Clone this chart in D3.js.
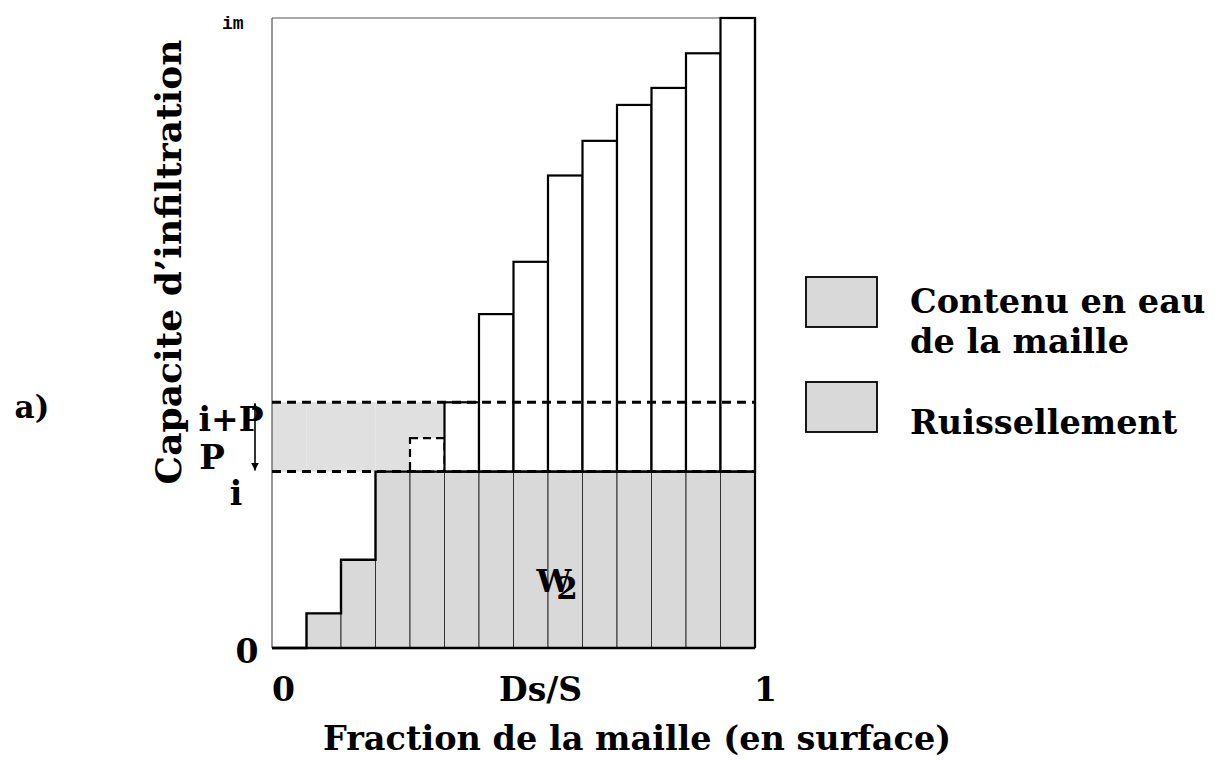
<!DOCTYPE html>
<html>
<head>
<meta charset="utf-8">
<script src="https://cdn.jsdelivr.net/npm/d3@7"></script>
<style>
  html, body { margin: 0; padding: 0; background: #fff; }
  text { font-family: "DejaVu Serif", serif; font-weight: bold; fill: #000; }
</style>
</head>
<body>
<svg id="chart" width="1219" height="761"></svg>
<script>
// ---- data ----
const columns = d3.range(14);                       // 14 equal fractions of the cell
const capacity = [0, 5.5, 14, 28, 33.3, 39, 53, 61.3, 75, 80.5, 86.2, 88.9, 94.4, 100]; // infiltration capacity per fraction (im = 100)
const infiltrationI = 28;     // i
const precipP = 11;           // P  (i+P = 39)
const xTickValues = [0, 0.555, 1];
const xTickLabels = ["0", "Ds/S", "1"];
const legendLabels = [["Contenu en eau", "de la maille"], ["Ruissellement"]];

// ---- layout ----
const svg = d3.select("#chart");
const x = d3.scaleLinear().domain([0, 1]).range([272, 755]);
const y = d3.scaleLinear().domain([0, 100]).range([648, 18]);
const colW = 1 / columns.length;
const iP = infiltrationI + precipP;

const gray = "#d9d9d9";
const lightGray = "#e0e0e0";

// runoff area (between i and i+P, above capacity)
svg.append("g").selectAll("rect")
  .data(columns.filter(k => capacity[k] < iP))
  .join("rect")
  .attr("x", k => x(k * colW))
  .attr("width", k => x((k + 1) * colW) - x(k * colW))
  .attr("y", y(iP))
  .attr("height", k => y(Math.max(capacity[k], infiltrationI)) - y(iP))
  .attr("fill", lightGray);

// frame
svg.append("line").attr("x1", x(0)).attr("x2", x(0)).attr("y1", y(100)).attr("y2", y(0))
  .attr("stroke", "#555").attr("stroke-width", 1.2);
svg.append("line").attr("x1", x(0)).attr("x2", x(1)).attr("y1", y(100)).attr("y2", y(100))
  .attr("stroke", "#555").attr("stroke-width", 1.2);

// water content (gray part of the columns)
svg.append("g").selectAll("rect")
  .data(columns.filter(k => capacity[k] > 0))
  .join("rect")
  .attr("x", k => x(k * colW))
  .attr("width", k => x((k + 1) * colW) - x(k * colW))
  .attr("y", k => y(Math.min(capacity[k], infiltrationI)))
  .attr("height", k => y(0) - y(Math.min(capacity[k], infiltrationI)))
  .attr("fill", gray).attr("stroke", "#333").attr("stroke-width", 1);

// upper (white) part of the columns (dashed where it borders the runoff area)
svg.append("g").selectAll("rect")
  .data(columns.filter(k => capacity[k] > infiltrationI))
  .join("rect")
  .attr("x", k => x(k * colW))
  .attr("width", k => x((k + 1) * colW) - x(k * colW))
  .attr("y", k => y(capacity[k]))
  .attr("height", k => y(infiltrationI) - y(capacity[k]))
  .attr("fill", "#fff").attr("stroke", "#000").attr("stroke-width", 2.2)
  .attr("stroke-dasharray", k => capacity[k] < iP ? "8,5" : null);

// step outline of the water content
const stepPts = columns.map(k => [k * colW, Math.min(capacity[k], infiltrationI)]);
stepPts.push([1, Math.min(capacity[columns.length - 1], infiltrationI)]);
svg.append("path")
  .attr("d", d3.line().x(d => x(d[0])).y(d => y(d[1])).curve(d3.curveStepAfter)(stepPts))
  .attr("fill", "none").attr("stroke", "#000").attr("stroke-width", 2.4);
// right edge
svg.append("line").attr("x1", x(1)).attr("x2", x(1)).attr("y1", y(100)).attr("y2", y(0))
  .attr("stroke", "#000").attr("stroke-width", 2.2);
// x axis base line
svg.append("line").attr("x1", x(0)).attr("x2", x(1)).attr("y1", y(0)).attr("y2", y(0))
  .attr("stroke", "#000").attr("stroke-width", 2.4);

// dashed levels i and i+P
svg.append("g").selectAll("line")
  .data([infiltrationI, iP])
  .join("line")
  .attr("x1", x(0)).attr("x2", x(1))
  .attr("y1", d => y(d)).attr("y2", d => y(d))
  .attr("stroke", "#000").attr("stroke-width", 3).attr("stroke-dasharray", "9,6");

// arrow P
const defs = svg.append("defs");
defs.append("marker")
  .attr("id", "ah").attr("viewBox", "0 0 10 10").attr("refX", 10).attr("refY", 5)
  .attr("markerWidth", 5).attr("markerHeight", 5).attr("orient", "auto")
  .append("path").attr("d", "M0,0 L10,5 L0,10 z").attr("fill", "#000");
defs.append("marker")
  .attr("id", "ahs").attr("viewBox", "0 0 10 10").attr("refX", 10).attr("refY", 5)
  .attr("markerWidth", 4).attr("markerHeight", 4).attr("orient", "auto-start-reverse")
  .append("path").attr("d", "M0,0 L10,5 L0,10 z").attr("fill", "#000");
svg.append("line").attr("x1", 255).attr("x2", 255)
  .attr("y1", y(iP) + 1).attr("y2", y(infiltrationI) - 1)
  .attr("stroke", "#000").attr("stroke-width", 1.6)
  .attr("marker-end", "url(#ah)").attr("marker-start", "url(#ahs)");

// axis tick labels
svg.append("g").attr("transform", `translate(0,${y(0)})`)
  .call(d3.axisBottom(x).tickValues(xTickValues).tickSize(0).tickFormat((d, i) => xTickLabels[i]))
  .call(g => g.select(".domain").remove())
  .selectAll("text")
  .attr("font-family", "DejaVu Serif").attr("font-weight", "bold").attr("font-size", 33)
  .attr("fill", "#000")
  .attr("dy", "1.5em")
  .attr("dx", (d, i) => i === 0 ? 11 : (i === 2 ? 10 : 0));

svg.append("text").attr("x", 247).attr("y", y(0) + 15).attr("text-anchor", "middle")
  .attr("font-size", 33).text("0");
svg.append("text").attr("x", 222).attr("y", 29)
  .style("font-family", "Liberation Mono").attr("font-size", 18).text("im");

// level labels
svg.append("text").attr("x", 231).attr("y", y(iP) + 29).attr("text-anchor", "middle")
  .attr("font-size", 33).text("i+P");
svg.append("text").attr("x", 212).attr("y", y(infiltrationI) - 3).attr("text-anchor", "middle")
  .attr("font-size", 34).text("P");
svg.append("text").attr("x", 236).attr("y", y(infiltrationI) + 33).attr("text-anchor", "middle")
  .attr("font-size", 33).text("i");
svg.append("text").attr("x", 32).attr("y", 418).attr("text-anchor", "middle")
  .attr("font-size", 31).text("a)");

// W2
svg.append("text").attr("x", 554).attr("y", 592).attr("text-anchor", "middle")
  .attr("font-size", 31).text("W");
svg.append("text").attr("x", 567).attr("y", 599).attr("text-anchor", "middle")
  .attr("font-size", 31).text("2");

// axis titles
svg.append("text").attr("x", 323).attr("y", 750)
  .attr("font-size", 33.5).text("Fraction de la maille (en surface)");
svg.append("text").attr("transform", "translate(181,262) rotate(-90)").attr("text-anchor", "middle")
  .attr("font-size", 36).text("Capacite d\u2019infiltration");

// legend
const legendY = [277, 382];
const lg = svg.append("g").selectAll("g").data(legendLabels).join("g")
  .attr("transform", (d, i) => `translate(806,${legendY[i]})`);
lg.append("rect").attr("width", 71).attr("height", 50)
  .attr("fill", gray).attr("stroke", "#000").attr("stroke-width", 1.8);
lg.each(function (lines, i) {
  const g = d3.select(this);
  lines.forEach((t, j) => {
    g.append("text").attr("x", 104).attr("y", (i === 0 ? 36 : 52) + j * 40)
      .attr("font-size", 33.5).text(t);
  });
});
</script>
</body>
</html>
